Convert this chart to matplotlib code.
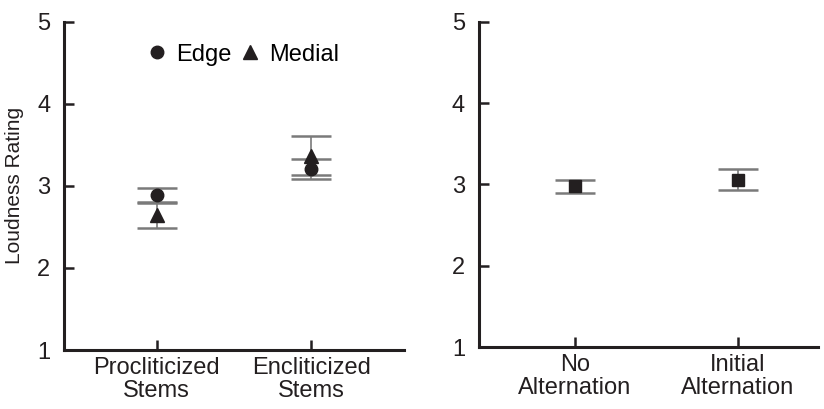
import matplotlib
matplotlib.use("Agg")
import matplotlib.pyplot as plt

plt.rcParams['font.family'] = ['Liberation Sans', 'DejaVu Sans']

# left panel: stem type x position type
stem_labels = ["Procliticized\nStems", "Encliticized\nStems"]
edge_mean = [2.89, 3.21]
edge_err = [0.09, 0.12]
medial_mean = [2.64, 3.37]
medial_err = [0.15, 0.24]

# right panel: alternation
alt_labels = ["No\nAlternation", "Initial\nAlternation"]
alt_mean = [2.98, 3.06]
alt_err = [0.08, 0.13]

dark = "#231f20"
capc = "#7a7a7a"

fig = plt.figure(figsize=(8.24, 4.09), dpi=100)
ax1 = fig.add_axes([0.0777, 0.144, 0.4126, 0.803])
ax2 = fig.add_axes([0.5813, 0.151, 0.411, 0.796])

xs = [1, 2]
ekw = dict(ecolor=capc, elinewidth=1.2, capsize=14.5, capthick=1.8, linestyle='none')
ax1.errorbar(xs, edge_mean, yerr=edge_err, marker='o', markersize=9,
             color=dark, label="Edge", **ekw)
ax1.errorbar(xs, medial_mean, yerr=medial_err, marker='^', markersize=10,
             color=dark, label="Medial", **ekw)
ax2.errorbar(xs, alt_mean, yerr=alt_err, marker='s', markersize=9,
             color=dark, **ekw)

for ax, labels, xl in [(ax1, stem_labels, (0.4, 2.6)), (ax2, alt_labels, (0.41, 2.49))]:
    ax.set_xlim(*xl)
    ax.set_ylim(1, 5)
    ax.set_yticks([1, 2, 3, 4, 5])
    ax.set_xticks(xs)
    ax.set_xticklabels(labels, linespacing=1.05)
    for s in ['top', 'right']:
        ax.spines[s].set_visible(False)
    for s in ['left', 'bottom']:
        ax.spines[s].set_linewidth(2.2)
        ax.spines[s].set_color(dark)
    ax.tick_params(direction='in', length=7, width=1.8, color=dark,
                   labelsize=17, pad=10, labelcolor=dark)
    ax.tick_params(axis='x', pad=5)

ax1.set_ylabel("Loudness Rating", fontsize=15, color=dark)
ax1.yaxis.set_label_coords(-0.118, 0.5)

h, l = ax1.get_legend_handles_labels()
h = [hh[0] for hh in h]
ax1.legend(h, l, loc='center', bbox_to_anchor=(0.53, 0.9), ncol=2, frameon=False,
           fontsize=17, handlelength=0.6, handletextpad=0.5, columnspacing=0.5)

fig.savefig("out.png", dpi=100)
